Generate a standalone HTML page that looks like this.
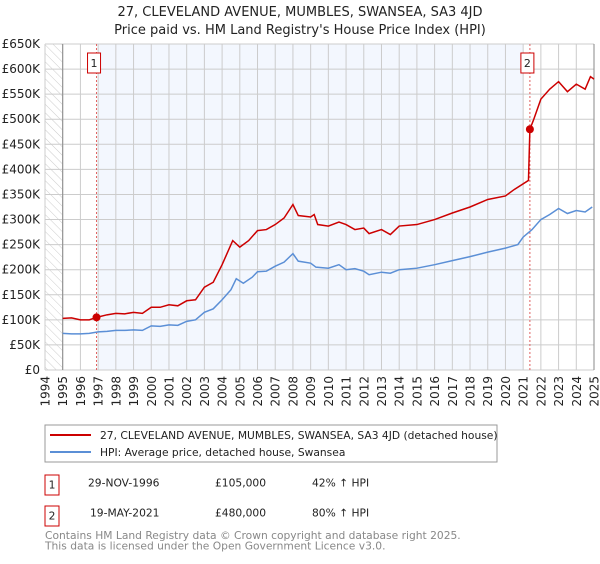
<!DOCTYPE html>
<html><head><meta charset="utf-8"><style>
body{margin:0;background:#fff;font-family:"DejaVu Sans","Liberation Sans",sans-serif}
svg text{font-family:"DejaVu Sans","Liberation Sans",sans-serif}
</style></head><body>
<svg id="chart" width="600" height="560" xmlns="http://www.w3.org/2000/svg">
<defs><pattern id="hatch" width="6" height="6" patternUnits="userSpaceOnUse" patternTransform="rotate(-45)"><line x1="0" y1="0" x2="0" y2="6" stroke="#ccc" stroke-width="1"/></pattern></defs>
<text x="300" y="16" text-anchor="middle" font-size="13" fill="#222">27, CLEVELAND AVENUE, MUMBLES, SWANSEA, SA3 4JD</text>
<text x="300" y="34" text-anchor="middle" font-size="13" fill="#222">Price paid vs. HM Land Registry's House Price Index (HPI)</text>
<g id="plot"></g>
<g>
<rect x="45" y="425" width="452" height="37" fill="#fff" stroke="#999" stroke-width="1"/>
<line x1="50" y1="435" x2="91" y2="435" stroke="#cc0000" stroke-width="2"/>
<text x="100" y="439" font-size="10.7" fill="#222">27, CLEVELAND AVENUE, MUMBLES, SWANSEA, SA3 4JD (detached house)</text>
<line x1="50" y1="452" x2="91" y2="452" stroke="#5b8fd6" stroke-width="2"/>
<text x="100" y="456" font-size="10.7" fill="#222">HPI: Average price, detached house, Swansea</text>
</g>
<g font-size="10.7" fill="#222">
<rect x="45" y="475" width="14" height="20" fill="#fff" stroke="#cc0000"/>
<text x="52" y="488.5" text-anchor="middle">1</text>
<text x="88" y="486.5">29-NOV-1996</text><text x="215" y="486.5">£105,000</text><text x="312" y="486.5">42% ↑ HPI</text>
<rect x="45" y="506" width="14" height="20" fill="#fff" stroke="#cc0000"/>
<text x="52" y="519.5" text-anchor="middle">2</text>
<text x="90" y="516.5">19-MAY-2021</text><text x="215" y="516.5">£480,000</text><text x="312" y="516.5">80% ↑ HPI</text>
</g>
<text x="45" y="539" font-size="10.7" fill="#888">Contains HM Land Registry data © Crown copyright and database right 2025.</text>
<text x="45" y="549.5" font-size="10.7" fill="#888">This data is licensed under the Open Government Licence v3.0.</text>
</svg>
<script>
const yTicks=[0,50,100,150,200,250,300,350,400,450,500,550,600,650];
const yTickLabels=["£0","£50K","£100K","£150K","£200K","£250K","£300K","£350K","£400K","£450K","£500K","£550K","£600K","£650K"];
const xYears=[1994,1995,1996,1997,1998,1999,2000,2001,2002,2003,2004,2005,2006,2007,2008,2009,2010,2011,2012,2013,2014,2015,2016,2017,2018,2019,2020,2021,2022,2023,2024,2025];
const hpiDates=[1995,1995.5,1996,1996.5,1997,1997.5,1998,1998.5,1999,1999.5,2000,2000.5,2001,2001.5,2002,2002.5,2003,2003.5,2004,2004.5,2004.8,2005.2,2005.7,2006,2006.5,2007,2007.5,2008,2008.3,2009,2009.3,2010,2010.6,2011,2011.5,2012,2012.3,2013,2013.5,2014,2015,2016,2017,2018,2019,2020,2020.7,2021,2021.5,2022,2022.5,2023,2023.5,2024,2024.5,2024.9];
const hpiValues=[73,72,72,73,76,77,79,79,80,79,88,87,90,89,97,100,115,122,140,160,182,173,185,196,197,207,215,232,217,213,205,203,210,200,202,197,190,195,193,200,203,210,218,226,235,243,250,265,280,300,310,322,312,318,315,325];
const priceDates=[1995,1995.5,1996,1996.5,1996.91,1997.5,1998,1998.5,1999,1999.5,2000,2000.5,2001,2001.5,2002,2002.5,2003,2003.5,2004,2004.6,2005,2005.5,2006,2006.5,2007,2007.5,2008,2008.3,2009,2009.2,2009.4,2010,2010.6,2011,2011.5,2012,2012.3,2013,2013.5,2014,2015,2016,2017,2018,2019,2020,2020.5,2021.3,2021.38,2021.6,2022,2022.5,2023,2023.5,2024,2024.5,2024.8,2025];
const priceValues=[103,104,100,100,105,110,113,112,115,113,125,125,130,128,138,140,165,175,210,258,245,258,278,280,290,303,330,308,305,310,290,287,295,290,280,283,272,280,270,287,290,300,313,325,340,347,360,378,480,500,540,560,575,555,570,560,585,580];
const sales=[{label:"1",date:1996.91,value:105},{label:"2",date:2021.38,value:480}];
const NS="http://www.w3.org/2000/svg";
const L=45,R=594,T=44,B=370;
const x=y=>L+(y-1994)/(2025-1994)*(R-L);
const yv=v=>B-v/650*(B-T);
const plot=document.getElementById('plot');
function mk(tag,attrs,parent){const e=document.createElementNS(NS,tag);for(const k in attrs)e.setAttribute(k,attrs[k]);(parent||plot).appendChild(e);return e;}
mk('rect',{x:L,y:T,width:R-L,height:B-T,fill:'#fff'});
const sh=mk('rect',{x:x(1997),y:T,width:x(2021)-x(1997),height:B-T,fill:'#f3f7fe'});


const ht=mk('rect',{x:L,y:T,width:x(1995)-L,height:B-T,fill:'url(#hatch)'});


yTicks.forEach((t,i)=>{
  const g=mk('line',{x1:L,x2:R,y1:yv(t),y2:yv(t),stroke:'#ccc','stroke-width':1});
  
  
  const tx=mk('text',{x:40,y:yv(t)+4,'text-anchor':'end','font-size':12,fill:'#222'});
  tx.textContent=yTickLabels[i];
  
  
});
xYears.forEach(yr=>{
  const g=mk('line',{x1:x(yr),x2:x(yr),y1:T,y2:B,stroke:'#ccc','stroke-width':1});
  
  
  const tx=mk('text',{x:0,y:0,'text-anchor':'end','font-size':12,fill:'#222',transform:`translate(${x(yr)+4.5},376) rotate(-90)`});
  tx.textContent=yr;
  
  
});
mk('line',{x1:x(1995),x2:x(1995),y1:T,y2:B,stroke:'#888','stroke-width':1});
mk('line',{x1:R,x2:R,y1:T,y2:B,stroke:'#888','stroke-width':1});
sales.forEach(s=>{
  const v=mk('line',{x1:x(s.date),x2:x(s.date),y1:T,y2:B,stroke:'#e06060','stroke-width':1,'stroke-dasharray':'2,2'});
  
  
});
const hp=mk('polyline',{points:hpiDates.map((d,i)=>x(d)+','+yv(hpiValues[i])).join(' '),fill:'none',stroke:'#5b8fd6','stroke-width':1.5});


const pp=mk('polyline',{points:priceDates.map((d,i)=>x(d)+','+yv(priceValues[i])).join(' '),fill:'none',stroke:'#cc0000','stroke-width':1.5});


sales.forEach(s=>{
  const c=mk('circle',{cx:x(s.date),cy:yv(s.value),r:4,fill:'#cc0000'});
  
  
  const cx=x(s.date)-2.5;
  const r=mk('rect',{x:cx-6.5,y:53,width:13,height:20,fill:'#fff',stroke:'#cc0000'});
  
  
  const t=mk('text',{x:cx,y:67,'text-anchor':'middle','font-size':11,fill:'#222'});
  t.textContent=s.label;
  
  
});
</script>
</body></html>
